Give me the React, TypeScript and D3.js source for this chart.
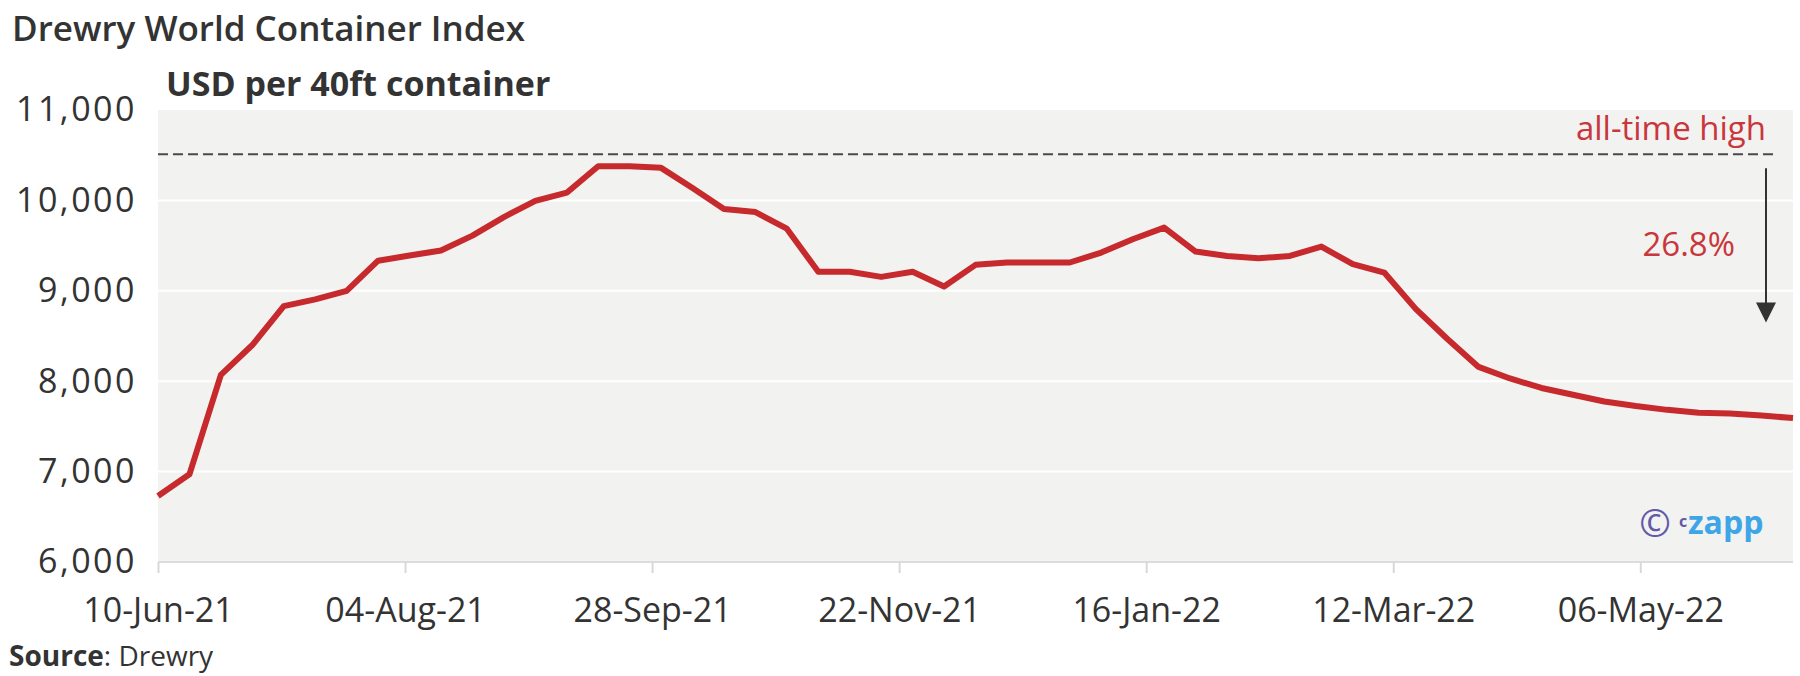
import React, { useEffect, useRef } from "react";
import * as d3 from "d3";

// weekly Drewry WCI readings (Thursdays), USD per 40ft
const weekDates = [
  "2021-06-10", "2021-06-17", "2021-06-24", "2021-07-01", "2021-07-08", "2021-07-15",
  "2021-07-22", "2021-07-29", "2021-08-05", "2021-08-12", "2021-08-19", "2021-08-26",
  "2021-09-02", "2021-09-09", "2021-09-16", "2021-09-23", "2021-09-30", "2021-10-07",
  "2021-10-14", "2021-10-21", "2021-10-28", "2021-11-04", "2021-11-11", "2021-11-18",
  "2021-11-25", "2021-12-02", "2021-12-09", "2021-12-16", "2021-12-23", "2021-12-30",
  "2022-01-06", "2022-01-13", "2022-01-20", "2022-01-27", "2022-02-03", "2022-02-10",
  "2022-02-17", "2022-02-24", "2022-03-03", "2022-03-10", "2022-03-17", "2022-03-24",
  "2022-03-31", "2022-04-07", "2022-04-14", "2022-04-21", "2022-04-28", "2022-05-05",
  "2022-05-12", "2022-05-19", "2022-05-26", "2022-06-02", "2022-06-09",
];
const wciValues = [
  6730, 6970, 8070, 8400, 8830, 8905,
  9000, 9333, 9390, 9445, 9610, 9815,
  9995, 10085, 10377, 10377, 10360, 10137,
  9905, 9871, 9687, 9210, 9210, 9154,
  9210, 9048, 9287, 9313, 9313, 9313,
  9423, 9570, 9699, 9434, 9386, 9360,
  9386, 9489, 9294, 9202, 8800, 8470,
  8158, 8030, 7925, 7850, 7775, 7725,
  7683, 7650, 7643, 7620, 7592,
];
const xTickLabels = ["10-Jun-21", "04-Aug-21", "28-Sep-21", "22-Nov-21", "16-Jan-22", "12-Mar-22", "06-May-22"];
const yTicks = [6000, 7000, 8000, 9000, 10000, 11000];
const allTimeHigh = 10510;
const arrowTipValue = 8650;
const dropLabel = "26.8%";

const width = 1800;
const height = 676;
const margin = { top: 110, right: 7, bottom: 114, left: 158 };
const font = "'Open Sans', sans-serif";
const red = "#c62a2d";

export default function App() {
  const ref = useRef<SVGSVGElement>(null);

  useEffect(() => {
    const svg = d3.select(ref.current);
    svg.selectAll("*").remove();

    const parseDay = d3.timeParse("%Y-%m-%d");
    const parseTick = d3.timeParse("%d-%b-%y");
    const data = weekDates.map((d, i) => ({ date: parseDay(d) as Date, value: wciValues[i] }));

    const x = d3
      .scaleTime()
      .domain(d3.extent(data, (d) => d.date) as [Date, Date])
      .range([margin.left, width - margin.right]);
    const y = d3
      .scaleLinear()
      .domain([6000, 11000])
      .range([height - margin.bottom, margin.top]);

    const [x0, x1] = x.range();
    const [yb, yt] = y.range();

    // panel
    svg.append("rect")
      .attr("x", x0).attr("y", yt)
      .attr("width", x1 - x0).attr("height", yb - yt)
      .attr("fill", "#f2f2f1");

    svg.append("g")
      .selectAll("line")
      .data(yTicks.slice(1, -1))
      .join("line")
      .attr("x1", x0).attr("x2", x1)
      .attr("y1", (d) => y(d)).attr("y2", (d) => y(d))
      .attr("stroke", "#fff").attr("stroke-width", 2);

    // x axis
    const xAxis = d3
      .axisBottom(x)
      .tickValues(xTickLabels.map((t) => parseTick(t) as Date))
      .tickFormat(d3.timeFormat("%d-%b-%y") as any)
      .tickSize(11)
      .tickPadding(25);
    const gx = svg.append("g").attr("transform", `translate(0,${yb})`).call(xAxis);
    gx.select(".domain").attr("stroke", "#dcdcdc").attr("stroke-width", 2).attr("d", `M${x0},0H${x1}`);
    gx.selectAll(".tick line").attr("stroke", "#d8d8d8").attr("stroke-width", 2);
    gx.selectAll(".tick text")
      .attr("font-family", font).attr("font-size", 34).attr("fill", "#333");

    // y axis labels
    const yAxis = d3.axisLeft(y).tickValues(yTicks).tickFormat(d3.format(",") as any).tickSize(0).tickPadding(21);
    const gy = svg.append("g").attr("transform", `translate(${x0},0)`).call(yAxis);
    gy.select(".domain").remove();
    gy.selectAll(".tick text")
      .attr("font-family", font).attr("font-size", 34).attr("fill", "#333")
      .attr("letter-spacing", "2.5px");

    // all-time high reference
    svg.append("line")
      .attr("x1", x0).attr("x2", x1 - 16)
      .attr("y1", y(allTimeHigh)).attr("y2", y(allTimeHigh))
      .attr("stroke", "#4a4a4a").attr("stroke-width", 2)
      .attr("stroke-dasharray", "10,5");

    // series
    const line = d3
      .line<{ date: Date; value: number }>()
      .x((d) => x(d.date))
      .y((d) => y(d.value));
    svg.append("path")
      .datum(data)
      .attr("d", line)
      .attr("fill", "none")
      .attr("stroke", red)
      .attr("stroke-width", 6)
      .attr("stroke-linejoin", "round");

    // annotation
    const ax = x1 - 27;
    const aTop = y(allTimeHigh) + 14;
    const aTip = y(arrowTipValue);
    svg.append("line")
      .attr("x1", ax).attr("x2", ax)
      .attr("y1", aTop).attr("y2", aTip - 16)
      .attr("stroke", "#333").attr("stroke-width", 2);
    svg.append("path")
      .attr("d", `M${ax - 10},${aTip - 20}L${ax + 10},${aTip - 20}L${ax},${aTip}Z`)
      .attr("fill", "#333");

    svg.append("text")
      .attr("x", ax).attr("y", y(allTimeHigh) - 14)
      .attr("text-anchor", "end")
      .attr("font-family", font).attr("font-size", 33).attr("fill", "#c9363b")
      .text("all-time high");
    svg.append("text")
      .attr("x", ax - 31).attr("y", 256)
      .attr("text-anchor", "end")
      .attr("font-family", font).attr("font-size", 33).attr("fill", "#c9363b")
      .text(dropLabel);

    // watermark
    svg.append("text")
      .attr("x", 1655).attr("y", 537)
      .attr("text-anchor", "middle")
      .attr("font-family", font).attr("font-size", 38).attr("fill", "#6259a8")
      .text("©");
    svg.append("text")
      .attr("x", 1679).attr("y", 527)
      .attr("font-family", font).attr("font-size", 16).attr("font-weight", 700).attr("fill", "#6259a8")
      .text("c");
    svg.append("text")
      .attr("x", 1688).attr("y", 534)
      .attr("font-family", font).attr("font-size", 32).attr("font-weight", 700).attr("fill", "#3ea6e6")
      .text("zapp");

    // titles
    svg.append("text")
      .attr("x", 12).attr("y", 41)
      .attr("font-family", font).attr("font-size", 35).attr("font-weight", 600).attr("fill", "#333")
      .text("Drewry World Container Index");
    svg.append("text")
      .attr("x", 166).attr("y", 96)
      .attr("font-family", font).attr("font-size", 34).attr("font-weight", 700).attr("fill", "#333")
      .text("USD per 40ft container");

    const src = svg.append("text")
      .attr("x", 9).attr("y", 666)
      .attr("font-family", font).attr("font-size", 28).attr("fill", "#333");
    src.append("tspan").attr("font-weight", 700).text("Source");
    src.append("tspan").text(": Drewry");
  }, []);

  return (
    <svg
      ref={ref}
      width={width}
      height={height}
      style={{ position: "absolute", left: 0, top: 0, background: "#fff" }}
    ></svg>
  );
}
